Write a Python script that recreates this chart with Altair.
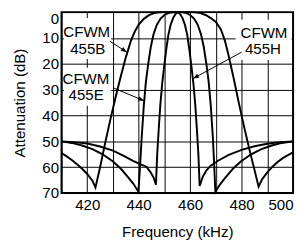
import altair as alt
import pandas as pd

FONT = "Liberation Sans"

# ---- curve readings (frequency kHz, attenuation dB) ----
b_freq = [410, 412, 414, 416, 418, 420, 422, 423.2,
          425, 427, 429, 431, 433, 435, 437, 438.5, 440, 442, 444, 446, 448, 450,
          455, 460, 462, 464, 466, 468, 470, 472, 473.5, 475, 477, 479, 481, 483, 485, 486.6,
          488, 490, 492, 494, 496, 498, 500]
b_db = [54.5, 55.8, 57.2, 58.8, 60.6, 62.6, 65.2, 67.8,
        60, 50.5, 41.5, 33, 25, 17.5, 11, 7.5, 4.8, 2.6, 1.2, 0.4, 0.05, 0,
        0, 0, 0.1, 0.4, 1.1, 2.3, 3.8, 6.8, 11, 17, 26, 35.5, 44.5, 53, 61, 67.5,
        64.6, 62, 59.8, 58, 56.5, 55.3, 54.3]

e_freq = [410, 414, 418, 422, 426, 430, 433, 436, 438, 439.9,
          440.5, 441.2, 442, 442.8, 443.7, 444.7, 445.8, 447, 448.5, 450, 451.5, 453, 455,
          457, 458.5, 460, 461.5, 463, 464.2, 465.3, 466.3, 467.2, 468, 468.8, 469.3, 469.8,
          471.7, 473.7, 476.7, 479.7, 483.7, 487.7, 491.7, 495.7, 500]
e_db = [50, 50.6, 51.6, 53, 55, 57.8, 60.5, 64, 66.5, 69.5,
        60, 48, 36, 27, 20, 13.5, 8.5, 5, 2.5, 1.1, 0.4, 0.05, 0,
        0.05, 0.4, 1.1, 2.5, 5, 8.5, 13.5, 20, 27, 36, 48, 58, 69.5,
        66.5, 64, 60.5, 57.8, 55, 53, 51.6, 50.6, 50]

h_freq = [410, 415, 420, 425, 430, 434, 438, 441, 443, 444.5, 445.8, 446.7,
          447.2, 447.8, 448.4, 449.1, 449.9, 450.7, 451.5, 452.4, 453.4, 454.4, 455.2,
          456, 457, 458, 458.9, 459.7, 460.5, 461.3, 462, 462.6, 463.2, 463.7,
          465, 466.5, 468, 471, 475, 480, 485, 490, 495, 500]
h_db = [50, 50.3, 50.8, 52, 53.6, 55.5, 57.6, 59, 59.8, 61.8, 64, 66.8,
        55, 45, 36, 28, 21, 14.5, 9, 5, 2.2, 0.6, 0,
        0.6, 2.2, 5, 9, 14.5, 21, 28, 36, 45, 55, 67.2,
        63.5, 61, 59.4, 57.4, 55.2, 53.3, 51.9, 50.9, 50.3, 50]

# ---- annotations ----
label_text = ["CFWM", "455B", "CFWM", "455E", "CFWM", "455H"]
label_freq = [419.8, 420.2, 419.5, 419.6, 488.7, 488.3]
label_db = [7.9, 14.3, 25.8, 32.1, 8.3, 14.5]

box_f0 = [410.9, 410.9, 477.7]
box_f1 = [429.3, 429.3, 499.4]
box_d0 = [2.3, 21.5, 3.0]
box_d1 = [18.1, 36.2, 18.5]

arrow_f0 = [428.9, 430.4, 480.0]
arrow_d0 = [11.3, 29.4, 15.5]
arrow_f1 = [435.4, 442.1, 461.1]
arrow_d1 = [15.5, 34.3, 25.7]
arrow_angle = [34, 23, 152]

x_values = list(range(410, 501, 10))
x_label_values = [420, 440, 460, 480, 500]
y_values = list(range(0, 71, 10))

curves = pd.concat([
    pd.DataFrame({"freq": b_freq, "db": b_db, "filter": "CFWM455B"}),
    pd.DataFrame({"freq": e_freq, "db": e_db, "filter": "CFWM455E"}),
    pd.DataFrame({"freq": h_freq, "db": h_db, "filter": "CFWM455H"}),
])
labels = pd.DataFrame({"text": label_text, "freq": label_freq, "db": label_db})
boxes = pd.DataFrame({"f0": box_f0, "f1": box_f1, "d0": box_d0, "d1": box_d1})
arrows = pd.DataFrame({"f0": arrow_f0, "d0": arrow_d0, "f1": arrow_f1,
                       "d1": arrow_d1, "angle": arrow_angle})

x_scale = alt.Scale(domain=[410, 500], nice=False, zero=False)
y_scale = alt.Scale(domain=[0, 70], reverse=True, nice=False, zero=False)

label_test = " || ".join(f"datum.value == {v}" for v in x_label_values)

x_axis = alt.Axis(
    values=x_values,
    labelExpr=f"({label_test}) ? datum.label : ''",
    grid=True, gridColor="#000", gridWidth=1, gridOpacity=1,
    ticks=False, domain=False, labelFlush=True, labelOverlap=False,
    labelPadding=5, labelFont=FONT, labelFontSize=15.5, labelColor="#000",
    title="Frequency (kHz)", titleFont=FONT, titleFontSize=15.5,
    titleFontWeight="normal", titleColor="#000", titlePadding=12,
)
y_axis = alt.Axis(
    values=y_values,
    grid=True, gridColor="#000", gridWidth=1, gridOpacity=1,
    ticks=False, domain=False, labelFlush=False, labelOverlap=False,
    labelBaseline={"condition": {"test": "datum.value == 0", "value": "top"}, "value": "middle"},
    labelPadding=3, labelFont=FONT, labelFontSize=15.5, labelColor="#000",
    title="Attenuation (dB)", titleFont=FONT, titleFontSize=15.5,
    titleFontWeight="normal", titleColor="#000", titlePadding=15,
)


def X(field):
    return alt.X(field, scale=x_scale, axis=x_axis)


def Y(field):
    return alt.Y(field, scale=y_scale, axis=y_axis)


line_layer = alt.Chart(curves).mark_line(color="black", strokeWidth=2).encode(
    x=X("freq:Q"), y=Y("db:Q"), detail="filter:N",
)

box_layer = alt.Chart(boxes).mark_rect(color="white", opacity=1).encode(
    x=X("f0:Q"), x2="f1:Q", y=Y("d0:Q"), y2="d1:Q",
)

shaft_layer = alt.Chart(arrows).mark_rule(color="black", strokeWidth=1).encode(
    x=X("f0:Q"), x2="f1:Q", y=Y("d0:Q"), y2="d1:Q",
)

head_layer = alt.Chart(arrows).mark_point(
    shape="M0,0L-1,-0.38L-1,0.38Z", filled=True, color="black", opacity=1, size=150,
).encode(
    x=X("f1:Q"), y=Y("d1:Q"),
    angle=alt.Angle("angle:Q", scale=None),
)

text_layer = alt.Chart(labels).mark_text(
    font=FONT, fontSize=15.5, color="black", align="center", baseline="middle",
).encode(
    x=X("freq:Q"), y=Y("db:Q"), text="text:N",
)

chart = alt.layer(box_layer, line_layer, shaft_layer, head_layer, text_layer).properties(
    width=238, height=186,
    autosize=alt.AutoSizeParams(type="none"),
    padding={"left": 55, "top": 1, "right": 2, "bottom": 45},
).configure_view(stroke="black", strokeWidth=2)

chart.save("out.html", embed_options={"renderer": "svg", "actions": False})
